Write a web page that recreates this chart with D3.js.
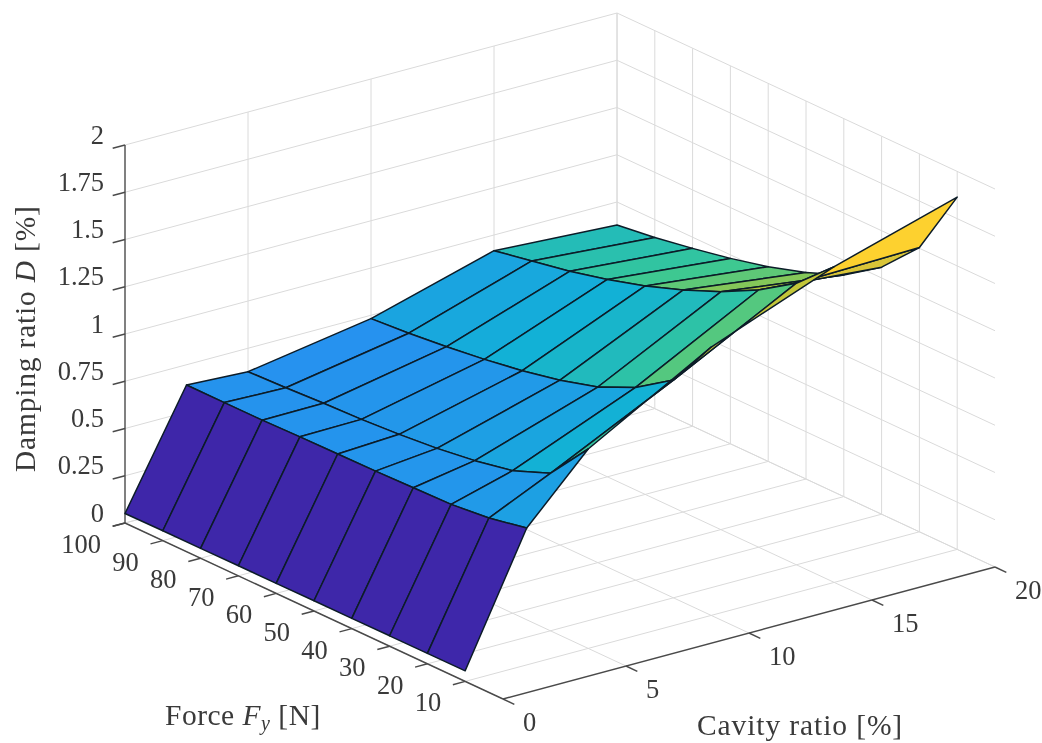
<!DOCTYPE html>
<html lang="en">

<head>
    <meta charset="utf-8">
    <script src="https://d3js.org/d3.v7.min.js"></script>
    <style>
        body { margin: 0; background: #fff; }
        svg { filter: blur(0.4px); }
        text { font-family: "Liberation Serif", serif; fill: #3a3a3a; }
    </style>
</head>

<body>
    <script>
        // measured grid of the surface
        const cavity = [0, 2.5, 5, 10, 15, 20];
        const force = [10, 20, 30, 40, 50, 60, 70, 80, 90, 100];

        // damping ratio, one list per cavity value, force ascending
        const dampC0 = [0.056, 0.055, 0.055, 0.054, 0.054, 0.053, 0.053, 0.052, 0.052, 0.050];
        const dampC2 = [0.724, 0.684, 0.663, 0.658, 0.653, 0.650, 0.648, 0.643, 0.643, 0.643];
        const dampC5 = [1.055, 0.833, 0.754, 0.714, 0.686, 0.667, 0.653, 0.645, 0.634, 0.626];
        const dampC10 = [1.420, 1.152, 1.020, 0.929, 0.872, 0.829, 0.796, 0.770, 0.748, 0.732];
        const dampC15 = [1.671, 1.490, 1.361, 1.258, 1.174, 1.103, 1.044, 0.994, 0.956, 0.917];
        const dampC20 = [1.864, 1.504, 1.307, 1.172, 1.093, 1.030, 0.981, 0.941, 0.905, 0.878];
        const damping = [dampC0, dampC2, dampC5, dampC10, dampC15, dampC20];

        const cavityTicks = [0, 5, 10, 15, 20];
        const forceTicks = [10, 20, 30, 40, 50, 60, 70, 80, 90, 100];
        const dampTicks = [0, 0.25, 0.5, 0.75, 1, 1.25, 1.5, 1.75, 2];
        const dampTickLabels = ["0", "0.25", "0.5", "0.75", "1", "1.25", "1.5", "1.75", "2"];

        // parula colormap stops
        const parula = ["#3e26a8", "#4852f4", "#2d87f7", "#12b1d6", "#37c897", "#abc739", "#fec338", "#f9fb14"];

        const w = 1042, h = 743;
        const svg = d3.select("body").append("svg")
            .attr("width", w)
            .attr("height", h);

        // oblique projection: every data axis adds its own screen offset
        const cx = d3.scaleLinear().domain([0, 20]).range([0, 492]);
        const cy = d3.scaleLinear().domain([0, 20]).range([0, -132]);
        const fx = d3.scaleLinear().domain([0, 100]).range([0, -378]);
        const fy = d3.scaleLinear().domain([0, 100]).range([0, -176]);
        const zy = d3.scaleLinear().domain([0, 2]).range([0, -378]);

        function project(c, f, d) {
            return [503 + cx(c) + fx(f), 699 + cy(c) + fy(f) + zy(d)];
        }

        const dMin = d3.min(damping.flat()), dMax = d3.max(damping.flat());
        const color = d3.scaleLinear()
            .domain(parula.map(function (p, i) { return dMin + (dMax - dMin) * i / (parula.length - 1); }))
            .range(parula);

        const line = d3.line();

        function seg(g, a, b, stroke, width) {
            g.append("path")
                .attr("d", line([a, b]))
                .attr("fill", "none")
                .attr("stroke", stroke)
                .attr("stroke-width", width);
        }

        // grid on floor and the two walls
        const grid = svg.append("g");
        const gridCol = "#dadada";
        dampTicks.forEach(function (z) {
            seg(grid, project(0, 100, z), project(20, 100, z), gridCol, 1);
            seg(grid, project(20, 100, z), project(20, 0, z), gridCol, 1);
        });
        cavityTicks.forEach(function (c) {
            seg(grid, project(c, 0, 0), project(c, 100, 0), gridCol, 1);
            if (c > 0) seg(grid, project(c, 100, 0), project(c, 100, 2), gridCol, 1);
        });
        forceTicks.forEach(function (f) {
            seg(grid, project(0, f, 0), project(20, f, 0), gridCol, 1);
            seg(grid, project(20, f, 0), project(20, f, 2), gridCol, 1);
        });

        // axis lines and ticks
        const axes = svg.append("g");
        const axisCol = "#4a4a4a";
        seg(axes, project(0, 100, 0), project(0, 100, 2), axisCol, 1.4);
        seg(axes, project(0, 100, 0), project(0, 0, 0), axisCol, 1.4);
        seg(axes, project(0, 0, 0), project(20, 0, 0), axisCol, 1.4);
        dampTicks.forEach(function (z) {
            seg(axes, project(0, 100, z), project(-0.5, 100, z), axisCol, 1.4);
        });
        forceTicks.forEach(function (f) {
            seg(axes, project(0, f, 0), project(-0.5, f, 0), axisCol, 1.4);
        });
        cavityTicks.forEach(function (c) {
            seg(axes, project(c, 0, 0), project(c, -3, 0), axisCol, 1.4);
        });

        // surface, back cells first. Flat colour from the low index corner, as surf does
        const cells = [];
        for (let j = force.length - 2; j >= 0; j--) {
            for (let i = cavity.length - 2; i >= 0; i--) {
                cells.push({ i: i, j: j });
            }
        }
        svg.append("g").selectAll("path")
            .data(cells)
            .join("path")
            .attr("d", function (k) {
                const corners = [[k.i, k.j], [k.i + 1, k.j], [k.i + 1, k.j + 1], [k.i, k.j + 1]];
                return line(corners.map(function (p) {
                    return project(cavity[p[0]], force[p[1]], damping[p[0]][p[1]]);
                })) + "Z";
            })
            .attr("fill", function (k) { return color(damping[k.i][k.j]); })
            .attr("stroke", "#0c1c28")
            .attr("stroke-width", 1.5)
            .attr("stroke-linejoin", "round");

        // tick labels
        const fontSize = 26.5;
        svg.append("g").selectAll("text")
            .data(dampTicks)
            .join("text")
            .attr("x", function (d) { return project(0, 100, d)[0] - 21; })
            .attr("y", function (d) { return project(0, 100, d)[1] - 1.5; })
            .attr("text-anchor", "end")
            .attr("font-size", fontSize)
            .text(function (d, i) { return dampTickLabels[i]; });

        svg.append("g").selectAll("text")
            .data(forceTicks)
            .join("text")
            .attr("x", function (d) { return project(0, d, 0)[0] - 24; })
            .attr("y", function (d) { return project(0, d, 0)[1] + 30; })
            .attr("text-anchor", "end")
            .attr("font-size", fontSize)
            .text(function (d) { return d; });

        svg.append("g").selectAll("text")
            .data(cavityTicks)
            .join("text")
            .attr("x", function (d) { return project(d, 0, 0)[0] + 20; })
            .attr("y", function (d) { return project(d, 0, 0)[1] + 32; })
            .attr("font-size", fontSize)
            .text(function (d) { return d; });

        // axis titles
        const titleSize = 29.5;
        svg.append("text")
            .attr("x", 697)
            .attr("y", 735)
            .attr("font-size", titleSize)
            .attr("letter-spacing", 0.9)
            .text("Cavity ratio [%]");

        const forceTitle = svg.append("text")
            .attr("x", 165)
            .attr("y", 725)
            .attr("font-size", titleSize)
            .attr("letter-spacing", 0.5);
        forceTitle.append("tspan").text("Force ");
        forceTitle.append("tspan").attr("font-style", "italic").text("F");
        forceTitle.append("tspan").attr("font-style", "italic").attr("font-size", 20).attr("dy", 5).text("y");
        forceTitle.append("tspan").attr("dy", -5).text(" [N]");

        const dampTitle = svg.append("text")
            .attr("transform", "translate(35,472) rotate(-90)")
            .attr("font-size", titleSize)
            .attr("letter-spacing", 0.8);
        dampTitle.append("tspan").text("Damping ratio ");
        dampTitle.append("tspan").attr("font-style", "italic").text("D");
        dampTitle.append("tspan").text(" [%]");
    </script>
</body>

</html>
